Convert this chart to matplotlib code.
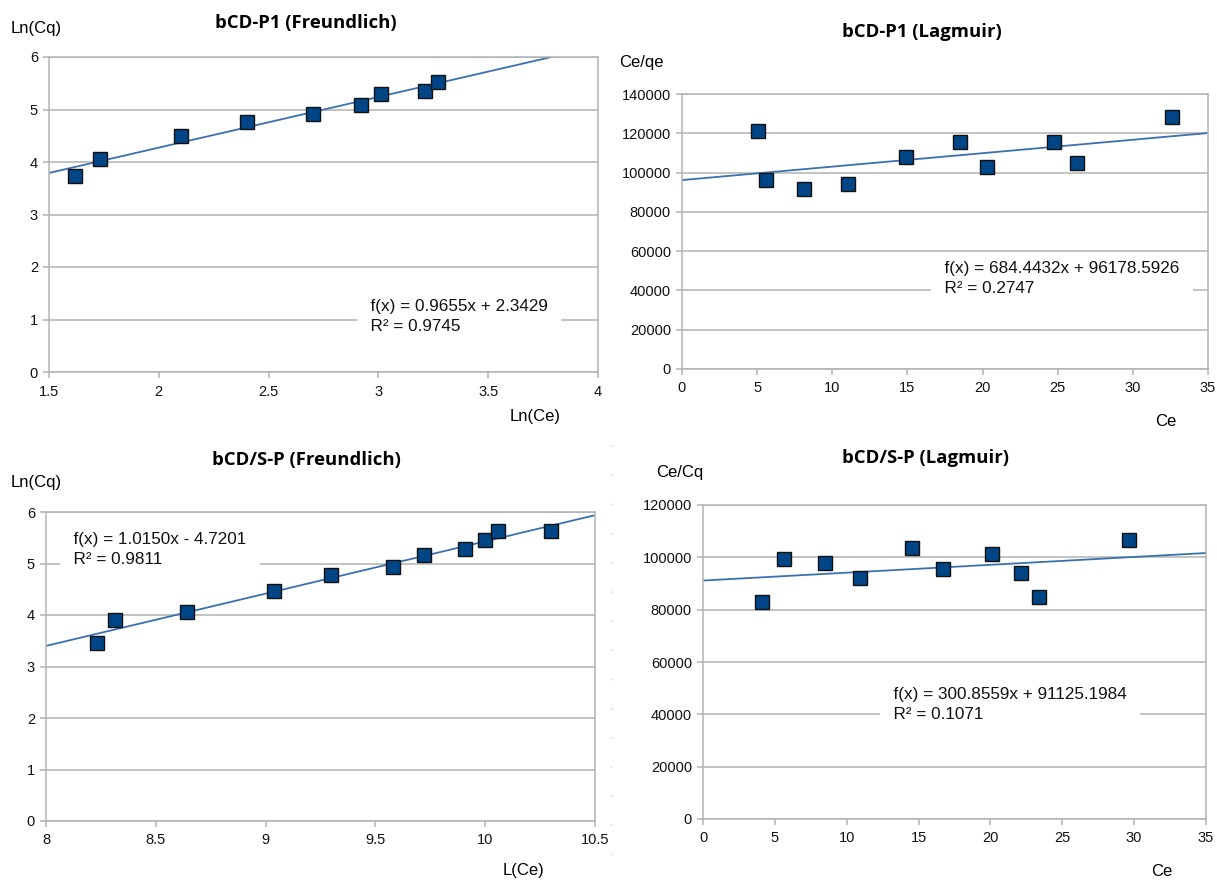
import matplotlib
matplotlib.use("Agg")
import matplotlib.pyplot as plt
import numpy as np
from matplotlib.lines import Line2D

# ---------------- data ----------------
p1_title = "bCD-P1 (Freundlich)"
p1_x = [1.62, 1.73, 2.10, 2.40, 2.70, 2.92, 3.01, 3.21, 3.27]
p1_y = [3.73, 4.06, 4.49, 4.76, 4.92, 5.08, 5.29, 5.36, 5.53]
p1_fit = [0.9655, 2.3429]
p1_eq = ["f(x) = 0.9655x + 2.3429", "R² = 0.9745"]

p2_title = "bCD-P1 (Lagmuir)"
p2_x = [5.05, 5.62, 8.11, 11.04, 14.88, 18.49, 20.30, 24.72, 26.31, 32.59]
p2_y = [121400, 96300, 91700, 94400, 107800, 115800, 102700, 115800, 104700, 128500]
p2_fit = [684.4432, 96178.5926]
p2_eq = ["f(x) = 684.4432x + 96178.5926", "R² = 0.2747"]

p3_title = "bCD/S-P (Freundlich)"
p3_x = [8.23, 8.315, 8.64, 9.04, 9.30, 9.58, 9.72, 9.91, 10.00, 10.06, 10.30]
p3_y = [3.46, 3.91, 4.06, 4.46, 4.78, 4.94, 5.16, 5.29, 5.46, 5.63, 5.63]
p3_fit = [1.0150, -4.7201]
p3_eq = ["f(x) = 1.0150x - 4.7201", "R² = 0.9811"]

p4_title = "bCD/S-P (Lagmuir)"
p4_x = [4.13, 5.64, 8.48, 10.9, 14.52, 16.73, 20.10, 22.15, 23.41, 29.64]
p4_y = [83000, 99200, 97900, 92200, 103600, 95500, 101100, 94100, 84700, 106700]
p4_fit = [300.8559, 91125.1984]
p4_eq = ["f(x) = 300.8559x + 91125.1984", "R² = 0.1071"]

p1_xticks = [1.5, 2, 2.5, 3, 3.5, 4]
p1_yticks = [0, 1, 2, 3, 4, 5, 6]
p2_xticks = [0, 5, 10, 15, 20, 25, 30, 35]
p2_yticks = [0, 20000, 40000, 60000, 80000, 100000, 120000, 140000]
p3_xticks = [8, 8.5, 9, 9.5, 10, 10.5]
p3_yticks = [0, 1, 2, 3, 4, 5, 6]
p4_xticks = [0, 5, 10, 15, 20, 25, 30, 35]
p4_yticks = [0, 20000, 40000, 60000, 80000, 100000, 120000]

# ---------------- style ----------------
W, H = 1217, 881
FONT = "Liberation Sans"
GRID = "#b3b3b3"
MARK = "#004586"
LINE = "#3b70b0"

plt.rcParams["font.family"] = [FONT, "DejaVu Sans"]
fig = plt.figure(figsize=(W / 100, H / 100), dpi=100)


def fx(px):
    return px / W


def fy(py):
    return 1 - py / H


def make_axes(l, r, t, b):
    return fig.add_axes([fx(l), fy(b), fx(r) - fx(l), fy(t) - fy(b)])


def num(v):
    return "%g" % v


def style(ax, xt, yt):
    ax.set_xlim(xt[0], xt[-1])
    ax.set_ylim(yt[0], yt[-1])
    ax.set_xticks(xt)
    ax.set_yticks(yt)
    ax.set_xticklabels([num(v) for v in xt])
    ax.set_yticklabels([num(v) for v in yt])
    ax.grid(axis="y", color=GRID, linewidth=1.1, zorder=0)
    for s in ax.spines.values():
        s.set_color(GRID)
        s.set_linewidth(1.1)
    ax.tick_params(axis="both", colors=GRID, labelcolor="#111111",
                   labelsize=10.5, length=4, width=1.1, direction="out")
    ax.tick_params(axis="x", pad=5)
    ax.tick_params(axis="y", pad=4)
    ax.set_axisbelow(True)


def draw(ax, xs, ys, fit, xt):
    xx = np.array([xt[0], xt[-1]])
    ax.plot(xx, fit[0] * xx + fit[1], color=LINE, linewidth=1.3, zorder=2)
    ax.plot(xs, ys, linestyle="none", marker="s", markersize=9.5,
            markerfacecolor=MARK, markeredgecolor="#111111",
            markeredgewidth=1.0, zorder=3)


def eq_text(px, py, lines):
    # white label box: wide horizontal margin, small vertical margin
    s = "\n".join("  " + ln + "  " for ln in lines)
    fig.text(fx(px - 9), fy(py), s, fontsize=12.3, color="#111111",
             ha="left", va="top", linespacing=1.45,
             bbox=dict(facecolor="white", edgecolor="none", pad=3))


def title(px, py, s):
    fig.text(fx(px), fy(py), s, ha="center", va="center",
             fontsize=13.3, fontweight="bold", family="Open Sans")


def label(px, py, s, ha="left"):
    fig.text(fx(px), fy(py), s, ha=ha, va="center", fontsize=12)


# Panel 1
ax1 = make_axes(49, 598, 57, 372)
style(ax1, p1_xticks, p1_yticks)
draw(ax1, p1_x, p1_y, p1_fit, p1_xticks)
title(306, 23, p1_title)
label(11, 28, "Ln(Cq)")
label(535, 417, "Ln(Ce)", ha="center")
eq_text(370, 299, p1_eq)

# Panel 2
ax2 = make_axes(682, 1208, 94, 369)
style(ax2, p2_xticks, p2_yticks)
draw(ax2, p2_x, p2_y, p2_fit, p2_xticks)
title(922, 32, p2_title)
label(619, 62, "Ce/qe")
label(1166, 421, "Ce", ha="center")
eq_text(944, 261, p2_eq)

# Panel 3
ax3 = make_axes(46, 595, 512, 821)
style(ax3, p3_xticks, p3_yticks)
draw(ax3, p3_x, p3_y, p3_fit, p3_xticks)
title(306, 460, p3_title)
label(11, 482, "Ln(Cq)")
label(524, 870, "L(Ce)", ha="center")
eq_text(73, 532, p3_eq)

# Panel 4
ax4 = make_axes(703, 1206, 505, 819)
style(ax4, p4_xticks, p4_yticks)
draw(ax4, p4_x, p4_y, p4_fit, p4_xticks)
title(925, 458, p4_title)
label(656, 473, "Ce/Cq")
label(1162, 872, "Ce", ha="center")
eq_text(893, 687, p4_eq)

# faint dotted separator
fig.add_artist(Line2D([fx(611), fx(611)], [fy(445), fy(881)], color="#c8c8c8",
                      linewidth=1, linestyle=(0, (1, 20))))

fig.savefig("out.png", dpi=100, facecolor="white")
